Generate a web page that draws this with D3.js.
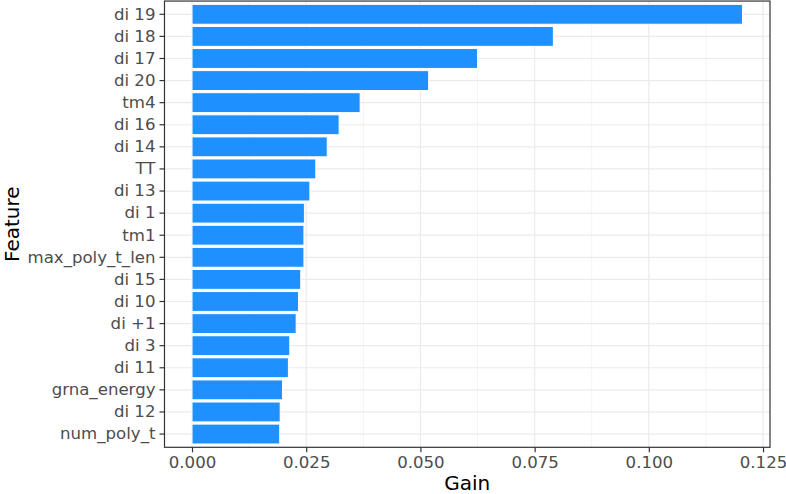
<!DOCTYPE html>
<html>
<head>
<meta charset="utf-8">
<script src="https://cdn.jsdelivr.net/npm/d3@7"></script>
<style>
  html, body { margin: 0; padding: 0; background: #fff; }
  svg { display: block; }
  text { font-family: "DejaVu Sans", sans-serif; }
</style>
</head>
<body>
<svg id="chart" width="786" height="494"></svg>
<script>
const features = ["di 19","di 18","di 17","di 20","tm4","di 16","di 14","TT","di 13","di 1",
                  "tm1","max_poly_t_len","di 15","di 10","di +1","di 3","di 11","grna_energy","di 12","num_poly_t"];
const gain = [0.1205,0.0791,0.0625,0.0518,0.0368,0.0322,0.0296,0.0271,0.0258,0.0246,
              0.0245,0.0245,0.0238,0.0233,0.0228,0.0214,0.0211,0.0198,0.0193,0.0192];
const xTicks = [0, 0.025, 0.05, 0.075, 0.1, 0.125];
const xMinor = [0.0125, 0.0375, 0.0625, 0.0875, 0.1125];
const xTickLabels = ["0.000","0.025","0.050","0.075","0.100","0.125"];

const data = features.map((f, i) => ({feature: f, gain: gain[i]}));

const panel = {left: 164.5, right: 770, top: 1.05, bottom: 447.3};
const svg = d3.select("#chart");

const maxG = d3.max(gain);
const x = d3.scaleLinear()
  .domain([-0.05 * maxG, maxG * 1.05])
  .range([panel.left, panel.right]);

const y = d3.scaleBand()
  .domain(features)
  .range([panel.top, panel.bottom])
  .paddingInner(0.1)
  .paddingOuter(0.15);

svg.append("rect")
  .attr("x", panel.left).attr("y", panel.top)
  .attr("width", panel.right - panel.left).attr("height", panel.bottom - panel.top)
  .attr("fill", "#fff");

const grid = svg.append("g");
grid.selectAll("line.minor").data(xMinor).join("line")
  .attr("x1", d => x(d)).attr("x2", d => x(d))
  .attr("y1", panel.top).attr("y2", panel.bottom)
  .attr("stroke", "#EBEBEB").attr("stroke-width", 0.6);
grid.selectAll("line.majx").data(xTicks).join("line")
  .attr("x1", d => x(d)).attr("x2", d => x(d))
  .attr("y1", panel.top).attr("y2", panel.bottom)
  .attr("stroke", "#EBEBEB").attr("stroke-width", 1.2);
grid.selectAll("line.majy").data(features).join("line")
  .attr("x1", panel.left).attr("x2", panel.right)
  .attr("y1", d => y(d) + y.bandwidth() / 2).attr("y2", d => y(d) + y.bandwidth() / 2)
  .attr("stroke", "#EBEBEB").attr("stroke-width", 1.2);

svg.append("g").selectAll("rect").data(data).join("rect")
  .attr("x", x(0))
  .attr("y", d => y(d.feature))
  .attr("width", d => x(d.gain) - x(0))
  .attr("height", y.bandwidth())
  .attr("fill", "#1E90FF")
  .attr("stroke", "#fff")
  .attr("stroke-width", 1);

svg.append("rect")
  .attr("x", panel.left).attr("y", panel.top)
  .attr("width", panel.right - panel.left).attr("height", panel.bottom - panel.top)
  .attr("fill", "none").attr("stroke", "#333333").attr("stroke-width", 1.2);

const xAxis = d3.axisBottom(x)
  .tickValues(xTicks)
  .tickFormat((d, i) => xTickLabels[i])
  .tickSize(5).tickPadding(4);
const gx = svg.append("g").attr("transform", `translate(0,${panel.bottom})`).call(xAxis);
gx.select(".domain").remove();
gx.selectAll(".tick line").attr("stroke", "#333333").attr("stroke-width", 1.2);
gx.selectAll(".tick text").attr("fill", "#4D4D4D").style("font-size", "16.6px")
  .attr("font-family", "DejaVu Sans");

const yAxis = d3.axisLeft(y).tickSize(5).tickPadding(4);
const gy = svg.append("g").attr("transform", `translate(${panel.left},0)`).call(yAxis);
gy.select(".domain").remove();
gy.selectAll(".tick line").attr("stroke", "#333333").attr("stroke-width", 1.2);
gy.selectAll(".tick text").attr("fill", "#4D4D4D").style("font-size", "16.6px")
  .attr("font-family", "DejaVu Sans");

svg.append("text")
  .attr("x", (panel.left + panel.right) / 2).attr("y", 490)
  .attr("text-anchor", "middle").style("font-size", "20px").attr("fill", "#000")
  .text("Gain");
svg.append("text")
  .attr("transform", `translate(19,${(panel.top + panel.bottom) / 2}) rotate(-90)`)
  .attr("text-anchor", "middle").style("font-size", "20px").attr("fill", "#000")
  .text("Feature");
</script>
</body>
</html>
